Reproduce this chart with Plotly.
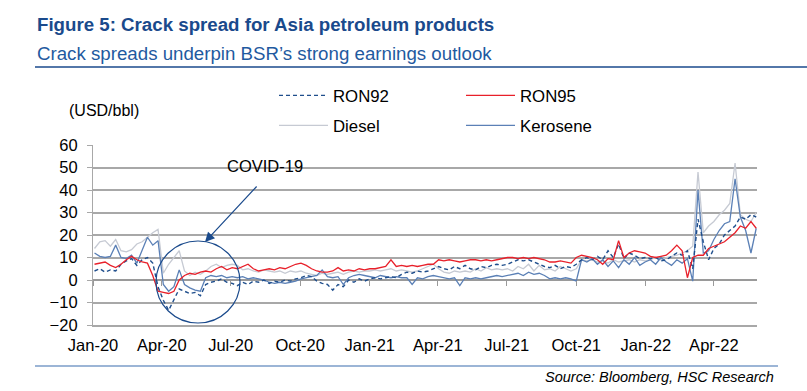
import pandas as pd
import plotly.graph_objects as go

# ---------------- data (weekly readings, USD/bbl) ----------------
dates = pd.date_range("2020-01-03", "2022-05-27", freq="7D")

ron92 = [4, 5, 3.5, 4.5, 4, 7, 8.5, 9.5, 6.5, 9, 10, 7.5, -3,
         -9, -13.5, -9, -4, -5, -6, -5.5, -7, -2, -1, -0.5, 0.5, -1,
         -1.5, -2.5, -1, -2, -0.5, -1, 0, -1.5, -0.5, -1, 0, -0.5, 0.5,
         1, 2, 1.5, -0.5, -1.5, -2, -4.5, -2, -3, 0, -1, 0.5, -0.5,
         0.5, 1, 0.5, 1, 1.5, 1, 2.5, 3.5, 3, 4, 3.5, 4, 5,
         6, 5, 4.5, 6, 5, 6.5, 5, 4.5, 6, 5.5, 6.5, 7, 6.5,
         7, 8, 9, 8.5, 9, 8, 7, 6, 5.5, 6.5, 5, 6, 5.5,
         7, 9, 10, 9, 10.5, 9, 13, 10, 16, 9.5, 12, 11, 9.5, 10,
         9.5, 10, 8.5, 9, 10.5, 12, 11, 13, 5, 27, 17, 9,
         14, 16, 20, 22, 24, 28, 27, 29, 28]

ron95 = [7, 7.5, 8, 6.5, 5.5, 7, 9, 10.5, 9, 8, 7.5, 2, -5,
         -5.5, -6, -5, 0, 2, 3, 2.5, 3.5, 4, 3.5, 5, 6, 4.5,
         5.5, 5, 6, 7, 5, 4, 4.5, 5, 4.5, 5.5, 5, 6, 7,
         7.5, 6.5, 5, 4, 3.5, 3.5, 4, 5.5, 4, 4.5, 4, 5, 4.5,
         5, 5, 5.5, 6, 9, 6, 6.5, 6, 6.5, 6, 6.5, 7, 7,
         9, 8.5, 9, 8.5, 8, 8.5, 9, 9, 8.5, 9, 8.5, 9, 9.5,
         10, 10, 9.5, 10, 9.5, 10, 9.5, 9, 8, 8, 8.5, 8, 7.5,
         10, 11, 10.5, 10, 9, 7, 9.5, 9, 17.5, 10, 12, 13, 12.5, 12,
         10.5, 10, 10.5, 11, 13, 15.5, 13, 1, 10, 11, 11, 14,
         15, 16, 17, 19, 21, 24, 23, 26, 23]

diesel = [14, 17, 17.5, 15, 18, 13, 12.5, 13.5, 16, 17, 19, 21, 22.5,
          3, 7, 10, 13, 4, 2, 3.5, 2.5, 4, 6, 7, 5.5, 6.5,
          7, 6.5, 4.5, 5, 4, 3.5, 4.5, 4, 3.5, 4, 3, 4, 3.5,
          4, 3, 2.5, 2, 3, 2.5, 3, 3.5, 2.5, 3.5, 4, 3.5, 4,
          4, 4.5, 4, 4.5, 5, 4, 4.5, 4, 3.5, 4, 5, 6, 7,
          5, 3.5, 3, 4, 3.5, 4, 3.5, 5, 4, 5.5, 4.5, 5, 4.5,
          5, 4, 6, 5, 7, 4, 6.5, 4.5, 5, 4, 6, 5, 4,
          5, 9, 8.5, 9, 8, 8.5, 7.5, 9, 8, 8.5, 9, 8, 9, 8.5,
          9, 10, 9, 10, 10.5, 11, 12, 13, 15, 48, 21, 24,
          26, 29, 31, 34, 52, 29, 27, 26, 30]

kerosene = [12, 10.5, 10, 10.5, 15.5, 10, 9.5, 11, 7.5, 13, 19, 15.5, 17.5,
            -2, -5, -3, 4.5, -2, -3.5, -4.5, -5, 1, 2, 1.5, 2, 1,
            1.5, 1, 1.5, 0.5, 1, 0.5, 0, -1, -1.5, -1, -1.5, -1, -0.5,
            0.5, 1, 1.5, 2, 4.5, 1.5, 1, 1.5, -2, 1, 2, 2.5, 2,
            1.5, 1, 2, 1.5, 1, 1.5, 1, 1, -2, 1, 0.5, 1.5, 2,
            1.5, 1, 0.5, 1, -2.5, 1, 0.5, 1, 0.5, 1, 1.5, 2, 1.5,
            2, 2.5, 3, 2, 3.5, 2.5, 3, 2, 0.5, 1, 0.5, 1, 0.5,
            -0.5, 9, 8, 9.5, 7, 9, 6, 8.5, 5.5, 9, 7, 10, 6.5, 8,
            9, 7, 10, 8, 6.5, 9, 7.5, 9.5, -0.5, 40, 12, 13,
            18, 22, 25, 26, 45, 28, 22, 12, 23]

tick_vals = pd.date_range("2020-01-01", "2022-04-01", freq="3MS")
tick_text = [d.strftime("%b-%y") for d in tick_vals]

# ---------------- layout helpers ----------------
W, H = 807, 391
L, R, T, B = 93, 757, 145, 325
FONT = "Liberation Sans, Arial, sans-serif"
NAVY = "#1a4a8c"


def pxx(x):
    return (x - L) / (R - L)


def pyy(y):
    return (B - y) / (B - T)


fig = go.Figure()
fig.add_trace(go.Scatter(x=dates, y=diesel, name="Diesel", mode="lines",
                         line=dict(color="#c6cad3", width=1.3),
                         legend="legend2", legendrank=1))
fig.add_trace(go.Scatter(x=dates, y=kerosene, name="Kerosene", mode="lines",
                         line=dict(color="#5b80b6", width=1.3),
                         legend="legend2", legendrank=2))
fig.add_trace(go.Scatter(x=dates, y=ron92, name="RON92", mode="lines",
                         line=dict(color="#1f4e8c", width=1.4, dash="4px,3px"),
                         legend="legend", legendrank=1))
fig.add_trace(go.Scatter(x=dates, y=ron95, name="RON95", mode="lines",
                         line=dict(color="#e8202a", width=1.3),
                         legend="legend", legendrank=2))
# carrier for the tick marks drawn on the zero line
fig.add_trace(go.Scatter(x=[dates[0]], y=[None], xaxis="x2", showlegend=False,
                         hoverinfo="skip"))

xrange = ["2020-01-01", "2022-05-28"]
leg_common = dict(orientation="h", xanchor="left", yanchor="top",
                  entrywidth=123, entrywidthmode="pixels", itemwidth=49,
                  font=dict(size=16.8), bgcolor="rgba(0,0,0,0)",
                  traceorder="normal")
fig.update_layout(
    width=W, height=H,
    margin=dict(l=L, r=W - R, t=T, b=H - B, autoexpand=False),
    paper_bgcolor="white", plot_bgcolor="white",
    font=dict(family=FONT, size=16, color="black"),
    xaxis=dict(range=xrange, tickvals=tick_vals, ticktext=tick_text,
               showgrid=False, zeroline=False, ticks="",
               showline=True, linecolor="#a8a8a8", linewidth=1.5,
               tickfont=dict(size=16.5), ticklabelstandoff=4),
    xaxis2=dict(range=xrange, overlaying="x", anchor="free", position=0.25,
                tickvals=tick_vals, showticklabels=False, ticks="outside",
                ticklen=5, tickcolor="#9a9a9a", tickwidth=1.2,
                showgrid=False, zeroline=False, showline=False),
    yaxis=dict(range=[-20, 60], dtick=10, showgrid=True, gridcolor="#a8a8a8",
               gridwidth=1.5, zeroline=True, zerolinecolor="#9a9a9a",
               zerolinewidth=1.5, showline=True, linecolor="#a8a8a8",
               linewidth=1.2, ticks="outside", ticklen=5, tickcolor="#a8a8a8",
               tickfont=dict(size=16.5), ticklabelstandoff=6),
    legend=dict(x=pxx(274), y=pyy(78), **leg_common),
    legend2=dict(x=pxx(274), y=pyy(108), **leg_common),
    showlegend=True,
)

ann = [
    dict(text="<b>Figure 5: Crack spread for Asia petroleum products</b>",
         x=pxx(35), y=pyy(25), xanchor="left", yanchor="middle",
         font=dict(size=18.7, color=NAVY)),
    dict(text="Crack spreads underpin BSR\u2019s strong earnings outlook",
         x=pxx(35), y=pyy(53), xanchor="left", yanchor="middle",
         font=dict(size=18.7, color="#1f5aa0")),
    dict(text="(USD/bbl)", x=pxx(67), y=pyy(110), xanchor="left",
         yanchor="middle", font=dict(size=16)),
    dict(text="<i>Source: Bloomberg, HSC Research</i>", x=pxx(776),
         y=pyy(377), xanchor="right", yanchor="middle", font=dict(size=14.5)),
    dict(text="COVID-19", x=pxx(265), y=pyy(166), xanchor="center",
         yanchor="middle", font=dict(size=16.5)),
]
for a in ann:
    a.update(xref="paper", yref="paper", showarrow=False)
fig.update_layout(annotations=ann)

# arrow pointing at the circle
fig.add_annotation(xref="paper", yref="paper", x=pxx(205), y=pyy(242),
                   text="", showarrow=True, axref="pixel", ayref="pixel",
                   ax=53, ay=-57, arrowhead=2, arrowsize=1.6, arrowwidth=1.2,
                   arrowcolor=NAVY)

shapes = [
    dict(type="line", xref="paper", yref="paper", x0=pxx(35), x1=pxx(807),
         y0=pyy(67), y1=pyy(67), line=dict(color=NAVY, width=1.5)),
    dict(type="line", xref="paper", yref="paper", x0=pxx(35), x1=pxx(778),
         y0=pyy(366), y1=pyy(366), line=dict(color="#7b9cc8", width=1.5)),
    dict(type="circle", xref="paper", yref="paper", x0=pxx(156), x1=pxx(240),
         y0=pyy(323), y1=pyy(241), line=dict(color=NAVY, width=1.2)),
]
fig.update_layout(shapes=shapes)

fig.write_html(
    "out.html",
    config={"displayModeBar": False},
    post_script="document.body.style.margin='0';"
                "document.body.style.overflow='hidden';",
)
